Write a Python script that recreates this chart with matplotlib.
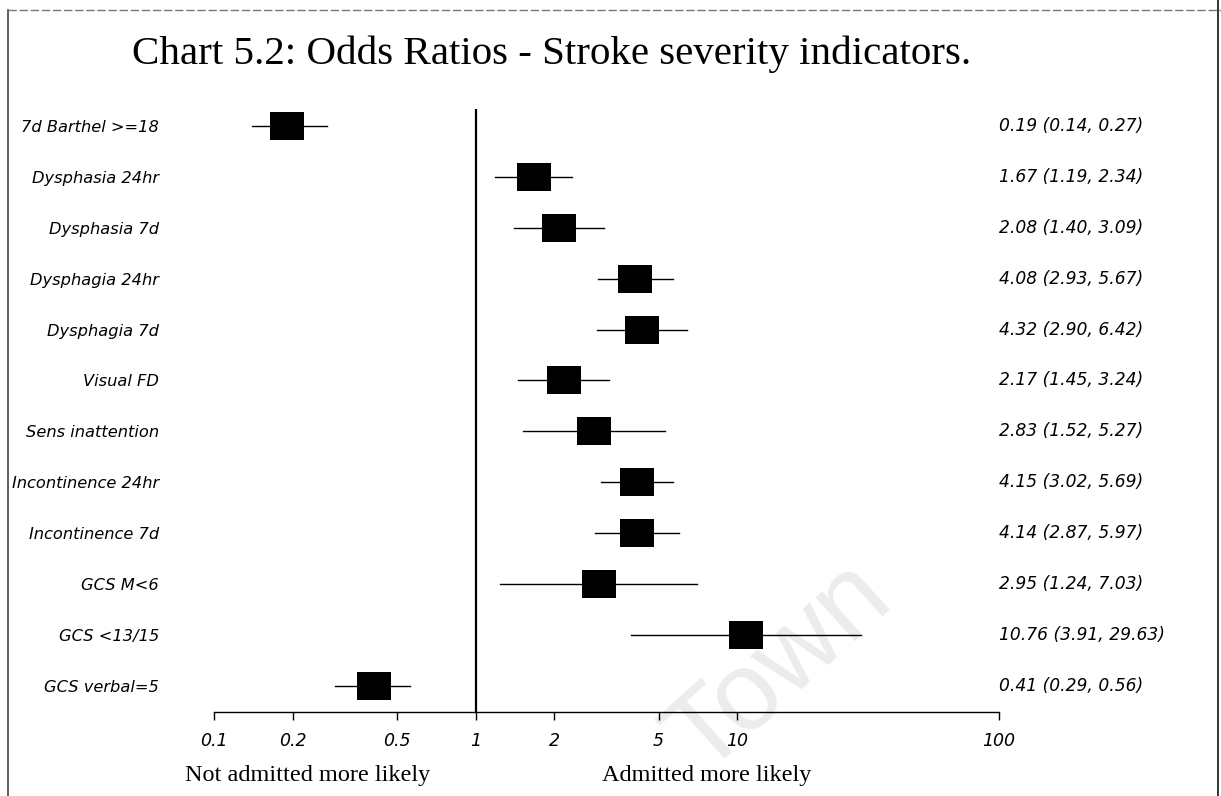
"""
Forest plot: odds ratios for stroke severity indicators (Chart 5.2).
"""

import matplotlib

matplotlib.use("Agg")
import matplotlib.pyplot as plt
from matplotlib.lines import Line2D
import numpy as np

TITLE = "Chart 5.2: Odds Ratios - Stroke severity indicators."

labels = [
    "7d Barthel >=18",
    "Dysphasia 24hr",
    "Dysphasia 7d",
    "Dysphagia 24hr",
    "Dysphagia 7d",
    "Visual FD",
    "Sens inattention",
    "Incontinence 24hr",
    "Incontinence 7d",
    "GCS M<6",
    "GCS <13/15",
    "GCS verbal=5",
]
odds_ratio = [0.19, 1.67, 2.08, 4.08, 4.32, 2.17, 2.83, 4.15, 4.14, 2.95, 10.76, 0.41]
ci_low = [0.14, 1.19, 1.40, 2.93, 2.90, 1.45, 1.52, 3.02, 2.87, 1.24, 3.91, 0.29]
ci_high = [0.27, 2.34, 3.09, 5.67, 6.42, 3.24, 5.27, 5.69, 5.97, 7.03, 29.63, 0.56]

x_ticks = [0.1, 0.2, 0.5, 1, 2, 5, 10, 100]
x_tick_labels = ["0.1", "0.2", "0.5", "1", "2", "5", "10", "100"]

W, H = 1221, 796
fig = plt.figure(figsize=(W / 100, H / 100), dpi=100)
fig.patch.set_facecolor("white")

# axes box in pixel terms: x 214..999, y 109..712
ax = fig.add_axes([214 / W, 1 - 712 / H, (999 - 214) / W, (712 - 109) / H])
ax.patch.set_visible(False)

rows = np.arange(1, len(labels) + 1)
box = [(-1, -0.82), (1, -0.82), (1, 0.82), (-1, 0.82)]

for y, o, lo, hi in zip(rows, odds_ratio, ci_low, ci_high):
    ax.plot([lo, hi], [y, y], color="black", lw=1.0, zorder=2)
    ax.plot([o], [y], marker=box, markersize=24.5, color="black",
            markeredgewidth=0, linestyle="none", zorder=3)

ax.axvline(1, color="black", lw=1.6, zorder=2)

ax.set_xscale("log")
ax.set_xlim(0.1, 100)
ax.set_ylim(len(labels) + 0.51, 0.67)

ax.set_xticks(x_ticks)
ax.set_xticklabels(x_tick_labels, fontsize=12.5, fontstyle="italic", family="DejaVu Sans")
ax.xaxis.set_minor_locator(matplotlib.ticker.NullLocator())
ax.tick_params(axis="x", direction="out", length=5.5, width=1, pad=9, colors="black")

ax.set_yticks(rows)
ax.set_yticklabels(labels, fontsize=11.7, fontstyle="italic", family="DejaVu Sans")
ax.tick_params(axis="y", length=0, pad=39.5)

for side in ("top", "right", "left"):
    ax.spines[side].set_visible(False)
ax.spines["bottom"].set_linewidth(1.0)

for y, o, lo, hi in zip(rows, odds_ratio, ci_low, ci_high):
    ax.text(1.0, y, f"{o:.2f} ({lo:.2f}, {hi:.2f})", transform=ax.get_yaxis_transform(),
            ha="left", va="center", fontsize=12.3, fontstyle="italic", family="DejaVu Sans")

fig.text(552 / W, 1 - 64 / H, TITLE, ha="center", va="baseline",
         fontsize=29.5, family="Liberation Serif")
fig.text(185 / W, 1 - 775 / H, "Not admitted more likely", ha="left", va="center",
         fontsize=17.5, family="Liberation Serif")
fig.text(602 / W, 1 - 775 / H, "Admitted more likely", ha="left", va="center",
         fontsize=17.5, family="Liberation Serif")

# faint scan watermark
fig.text(780 / W, 1 - 668 / H, "Town", rotation=42, ha="center", va="center", fontsize=80,
         color="#ececec", family="Liberation Sans", zorder=-5)

# page frame from the scanned document
x_l, x_r, y_t = 8 / W, 1218 / W, 1 - 10 / H
fig.add_artist(Line2D([x_l, x_l], [0, y_t], color="#444444", lw=1.2))
fig.add_artist(Line2D([x_l, 1], [y_t, y_t], color="#777777", lw=1.0, linestyle=(0, (6, 2))))
fig.add_artist(Line2D([x_r, x_r], [0, 1], color="#333333", lw=1.4))

fig.savefig("out.png", dpi=100)
